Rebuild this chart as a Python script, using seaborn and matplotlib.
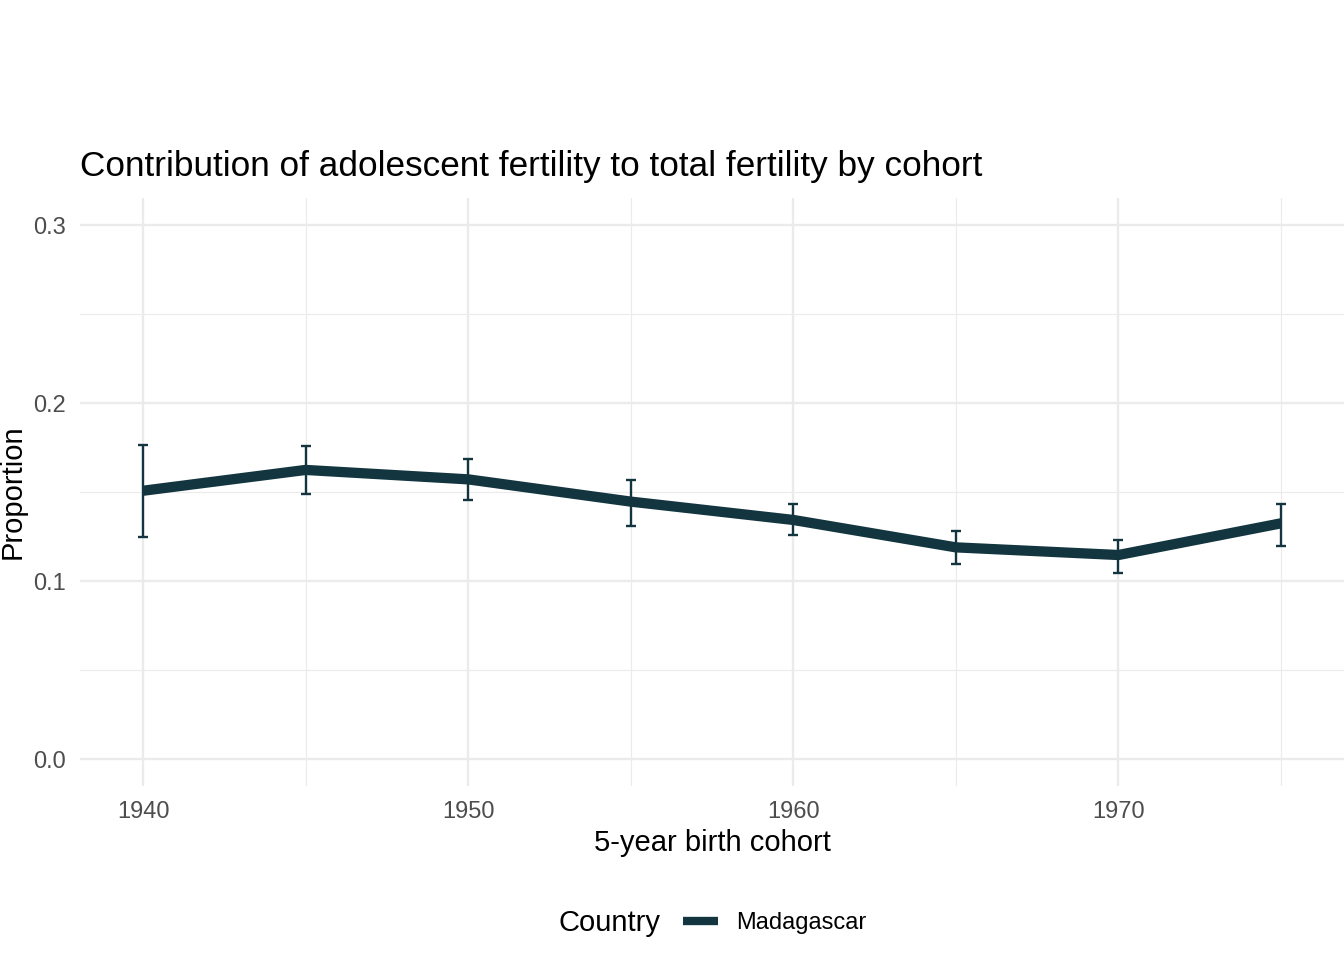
import pandas as pd
import seaborn as sns
import matplotlib.pyplot as plt

# cohort values
cohorts = [1940, 1945, 1950, 1955, 1960, 1965, 1970, 1975]
proportion = [0.1507, 0.1624, 0.1571, 0.1446, 0.1343, 0.1189, 0.1146, 0.1324]
lower = [0.1247, 0.1487, 0.1453, 0.1311, 0.1257, 0.1094, 0.1043, 0.1195]
upper = [0.1764, 0.1758, 0.1685, 0.1566, 0.1431, 0.1279, 0.1230, 0.1434]
country = ['Madagascar'] * len(cohorts)

x_major = [1940, 1950, 1960, 1970]
x_minor = [1945, 1955, 1965, 1975]
y_major = [0.0, 0.1, 0.2, 0.3]
y_minor = [0.05, 0.15, 0.25]

df = pd.DataFrame({'cohort': cohorts, 'prop': proportion,
                   'lo': lower, 'hi': upper, 'Country': country})

sns.set_style('white')
plt.rcParams['font.family'] = ['Liberation Sans', 'DejaVu Sans']
plt.rcParams['text.color'] = 'black'
plt.rcParams['axes.labelcolor'] = 'black'

line_col = '#13353F'
grid_col = '#EBEBEB'

fig = plt.figure(figsize=(13.44, 9.6), dpi=100)
ax = fig.add_axes([80 / 1344, 1 - 785.7 / 960, 1 - 80 / 1344, (785.7 - 198.3) / 960])

ax.errorbar(df['cohort'], df['prop'],
            yerr=[df['prop'] - df['lo'], df['hi'] - df['prop']],
            fmt='none', ecolor=line_col, elinewidth=1.7, capsize=3.6,
            capthick=1.7, zorder=3)
sns.lineplot(data=df, x='cohort', y='prop', hue='Country',
             palette=[line_col], linewidth=7.4, ax=ax, zorder=4,
             solid_capstyle='butt', solid_joinstyle='round')

ax.set_xlim(1940 - 63 / 32.5, 1975 + 63 / 32.5)
ax.set_ylim(-0.015, 0.315)
ax.set_xticks(x_major)
ax.set_xticks(x_minor, minor=True)
ax.set_yticks(y_major)
ax.set_yticks(y_minor, minor=True)
ax.set_xticklabels([str(v) for v in x_major])
ax.set_yticklabels(['0.0', '0.1', '0.2', '0.3'])

ax.grid(which='major', color=grid_col, linewidth=1.7)
ax.grid(which='minor', color=grid_col, linewidth=0.85)
ax.set_axisbelow(True)
for s in ax.spines.values():
    s.set_visible(False)
ax.tick_params(which='both', length=0)
ax.tick_params(axis='both', labelsize=17, labelcolor='#4D4D4D')
ax.tick_params(axis='x', pad=11)
ax.tick_params(axis='y', pad=10)

ax.set_xlabel('5-year birth cohort', fontsize=21, labelpad=4)
ax.set_ylabel('Proportion', fontsize=21, labelpad=5)

fig.text(80 / 1344, 1 - 176 / 960,
         'Contribution of adolescent fertility to total fertility by cohort',
         fontsize=25.3, ha='left', va='baseline')

# legend at the bottom, title to the left of the key
handles, labels = ax.get_legend_handles_labels()
ax.get_legend().remove()
fig.text(559 / 1344, 1 - 923 / 960, 'Country', fontsize=21,
         ha='left', va='center')
leg = fig.legend(handles, labels, loc='center left',
                 bbox_to_anchor=(683 / 1344, 1 - 923 / 960),
                 frameon=False, fontsize=17, handlelength=1.5,
                 handletextpad=0.75, borderpad=0, borderaxespad=0)
for h in leg.get_lines():
    h.set_linewidth(6)
    h.set_solid_capstyle('butt')

fig.savefig('out.png', dpi=100)
